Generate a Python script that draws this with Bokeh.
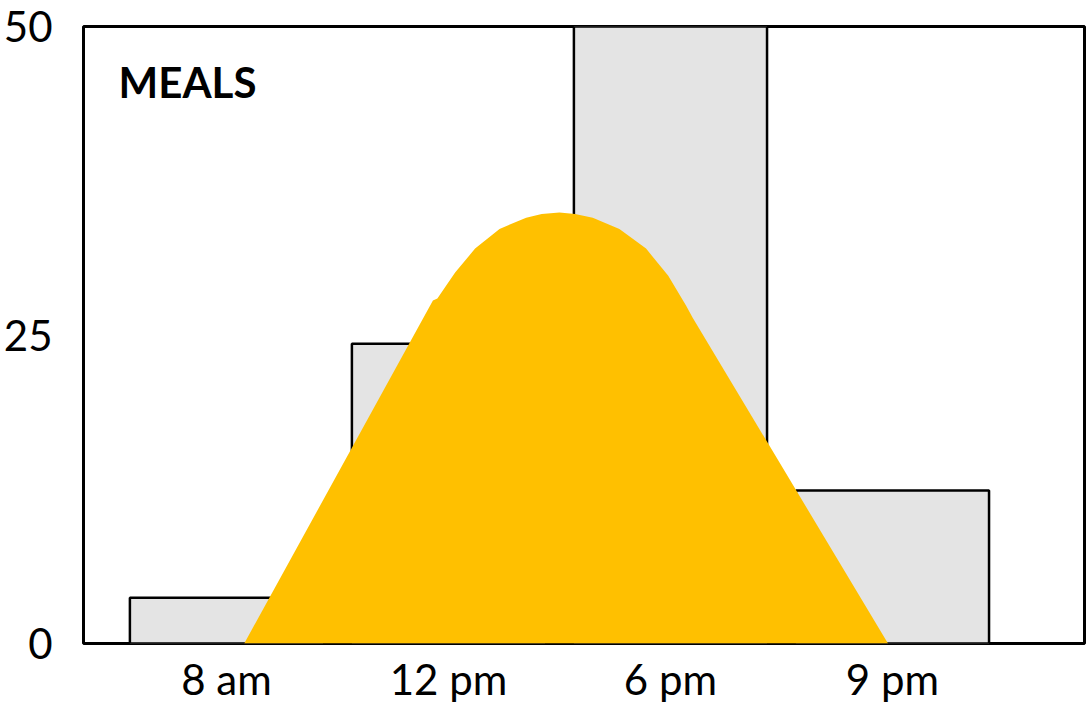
from bokeh.plotting import figure
from bokeh.models import Range1d, FixedTicker, Label
from bokeh.embed import file_html
from bokeh.resources import INLINE

# --- data ---
categories = ["8 am", "12 pm", "6 pm", "9 pm"]
meals = [3.7, 24.3, 50.0, 12.4]
y_ticks = [0, 25, 50]
# yellow "mountain" outline (x in category units, y in meals)
curve_x = [0.08, 0.93, 0.95, 1.03, 1.12, 1.23, 1.35, 1.42, 1.50,
           1.57, 1.65, 1.77, 1.89, 1.99, 2.07, 2.10, 2.98]
curve_y = [0.0, 27.8, 27.96, 30.07, 32.0, 33.6, 34.5, 34.8, 34.93,
           34.8, 34.5, 33.6, 32.0, 29.8, 27.4, 26.4, 0.0]

FONT = "Lato"

p = figure(width=1086, height=707, output_backend="svg", toolbar_location=None,
           x_range=Range1d(-0.644, 3.865), y_range=Range1d(0, 50),
           min_border_left=83, min_border_right=2, min_border_top=26,
           min_border_bottom=64)

p.background_fill_color = "white"
p.border_fill_color = "white"
p.outline_line_color = "black"
p.outline_line_width = 3
p.xgrid.visible = False
p.ygrid.visible = False

p.vbar(x=list(range(len(categories))), top=meals, bottom=0, width=0.87,
       fill_color="#E4E4E4", line_color="black", line_width=2.5)

p.patch(curve_x, curve_y, fill_color="#FFC000", line_color=None)

p.xaxis.ticker = FixedTicker(ticks=list(range(len(categories))))
p.xaxis.major_label_overrides = {i: c for i, c in enumerate(categories)}
p.yaxis.ticker = FixedTicker(ticks=y_ticks)

for ax in (p.xaxis, p.yaxis):
    ax.axis_line_color = None
    ax.major_tick_line_color = None
    ax.minor_tick_line_color = None
    ax.major_label_text_font = FONT
    ax.major_label_text_font_size = "42px"
    ax.major_label_text_color = "black"

p.xaxis.major_label_standoff = 4
p.yaxis.major_label_standoff = 25

p.add_layout(Label(x=-0.486, y=45.5, text="MEALS", text_font=FONT,
                   text_font_style="bold", text_font_size="42px",
                   text_color="black", text_baseline="alphabetic"))

open("out.html", "w").write(file_html(p, INLINE))
